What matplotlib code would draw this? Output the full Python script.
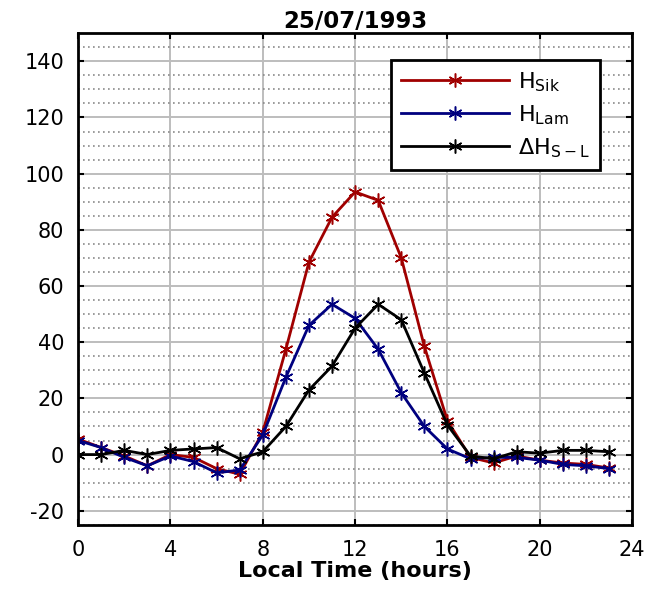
import matplotlib
matplotlib.use("Agg")
import matplotlib.pyplot as plt
from matplotlib.ticker import MultipleLocator

plt.rcParams['font.family'] = ['DejaVu Sans']
plt.rcParams['mathtext.fontset'] = 'custom'
plt.rcParams['mathtext.rm'] = 'DejaVu Sans'
plt.rcParams['axes.unicode_minus'] = False

hours = list(range(24))
h_sik = [5.5, 2.5, -0.5, -4, 0, -1, -5, -7, 8, 37.5, 68.5, 84.5, 93.5, 90.5, 70, 38.5, 12,
         -1, -3, -0.5, -2, -3, -3.5, -4.8]
h_lam = [5, 2.5, -1, -4, -0.5, -2.5, -6.5, -5.5, 7, 27.5, 46, 53.5, 48.5, 37.5, 22, 10, 2,
         -1.5, -1, -1, -2, -3.5, -4, -5]
dh = [0, 0, 1.5, 0, 1.5, 2, 2.5, -1.5, 1, 10, 23, 31.5, 45, 53.5, 48, 29, 10.5,
      -0.5, -1.5, 1, 0.5, 1.5, 1.5, 1]

title = '25/07/1993'
xlabel = 'Local Time (hours)'
labels = [r'$\mathregular{H_{Sik}}$', r'$\mathregular{H_{Lam}}$', r'$\mathregular{\Delta H_{S-L}}$']
colors = ['#a00000', '#00007f', '#000000']

fig = plt.figure(figsize=(6.51, 5.93), dpi=100)
ax = fig.add_axes([0.12, 0.115, 0.851, 0.829])

mk = (6, 2, 0)
for ys, lab, c in zip([h_sik, h_lam, dh], labels, colors):
    ax.plot(hours, ys, color=c, lw=2, marker=mk, ms=10, mew=1.1, label=lab)

ax.set_xlim(0, 24)
ax.set_ylim(-25, 150)
ax.xaxis.set_major_locator(MultipleLocator(4))
ax.yaxis.set_major_locator(MultipleLocator(20))
ax.yaxis.set_minor_locator(MultipleLocator(5))
ax.grid(which='major', color='#bdbdbd', lw=1.4, ls='-')
ax.grid(which='minor', axis='y', color='#8a8a8a', lw=1.2, ls=(0, (1, 2)))
ax.set_axisbelow(True)
ax.tick_params(which='major', direction='in', top=True, right=True, length=4, width=1.5,
               labelsize=15)
ax.tick_params(axis='y', pad=10)
ax.tick_params(axis='x', pad=11)
ax.tick_params(which='minor', length=0)
for s in ax.spines.values():
    s.set_linewidth(2)

ax.set_title(title, fontsize=16.5, fontweight='bold', pad=4)
ax.set_xlabel(xlabel, fontsize=16, fontweight='bold', labelpad=1)

leg = ax.legend(loc='upper right', bbox_to_anchor=(0.942, 0.945), borderaxespad=0,
                fontsize=16, numpoints=1, handlelength=4.9, handletextpad=0.4,
                fancybox=False, framealpha=1, edgecolor='black',
                labelspacing=0.42, borderpad=0.45)
leg.get_frame().set_linewidth(2)

fig.savefig('out.png', dpi=100)
